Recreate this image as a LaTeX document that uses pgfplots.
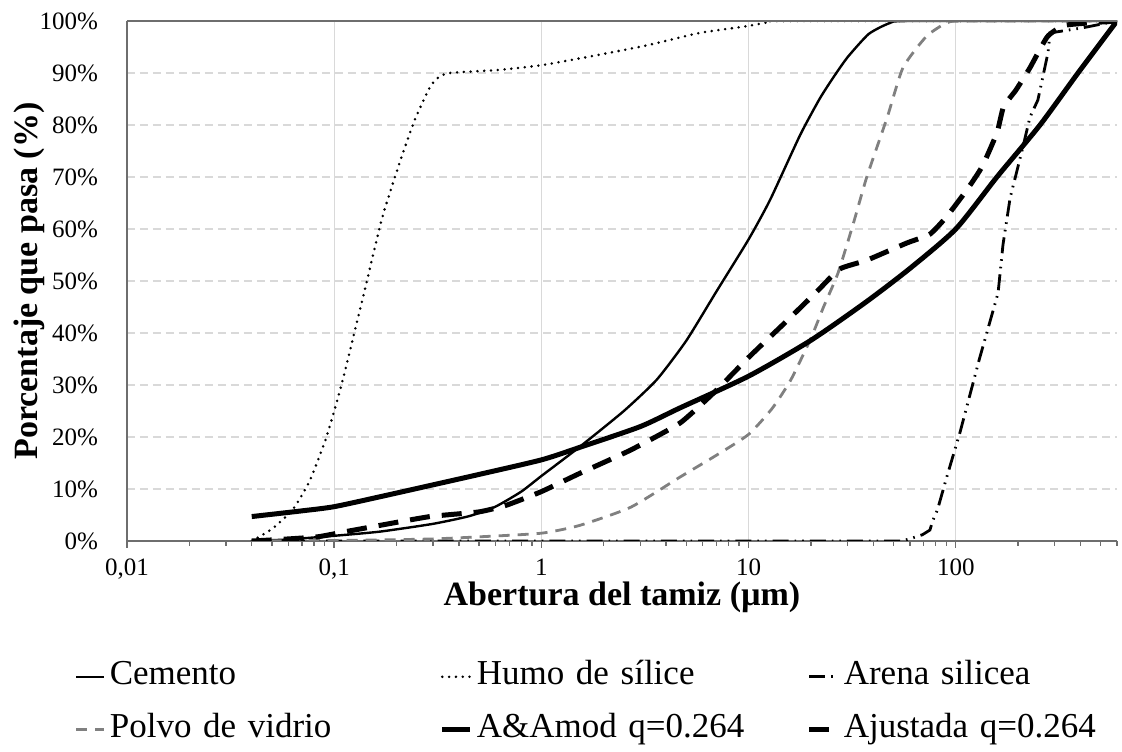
\documentclass[border=0pt]{standalone}
\usepackage{pgfplots}
\pgfplotsset{compat=1.18}
\usepackage{fontspec}
\setmainfont{Liberation Serif}
\definecolor{gridc}{RGB}{217,217,217}
\definecolor{axc}{RGB}{110,110,110}
\definecolor{polvo}{RGB}{128,128,128}
\begin{document}
\begin{tikzpicture}
\begin{axis}[
  scale only axis, width=495pt, height=260pt,
  xmode=log, xmin=0.01, xmax=600, ymin=0, ymax=100,
  /pgf/number format/assume math mode=true,
  xtick={0.01,0.1,1,10,100},
  xticklabels={{0,01},{0,1},1,10,100},
  minor xtick={0.02,0.03,0.04,0.05,0.06,0.07,0.08,0.09,0.2,0.3,0.4,0.5,0.6,0.7,0.8,0.9,2,3,4,5,6,7,8,9,20,30,40,50,60,70,80,90,200,300,400,500,600},
  ytick={0,10,20,30,40,50,60,70,80,90,100},
  yticklabels={0\%,10\%,20\%,30\%,40\%,50\%,60\%,70\%,80\%,90\%,100\%},
  axis x line*=bottom, axis y line*=left,
  axis line style={axc, line width=0.9pt},
  tick align=outside,
  major tick length=3.5pt, minor tick length=2.5pt,
  xtick style={axc, line width=0.7pt},
  ytick style={draw=none},
  xmajorgrids, ymajorgrids,
  x grid style={gridc, line width=0.6pt},
  y grid style={gridc, line width=0.6pt, dash pattern=on 4pt off 2.5pt},
  tick label style={font=\fontsize{12.5}{15}\selectfont},
  yticklabel style={xshift=-7.5pt},
  xticklabel style={yshift=-2pt, text depth=0pt},
  xlabel={Abertura del tamiz (µm)},
  ylabel={Porcentaje que pasa (\%)},
  label style={font=\bfseries\fontsize{17}{20}\selectfont},
  xlabel style={at={(axis description cs:0.5,-0.108)}, anchor=center, inner sep=0pt},
  ylabel style={at={(axis description cs:-0.099,0.5)}, anchor=center},
  legend columns=3,
  legend image code/.code={\draw[#1] (0pt,0pt) -- (14pt,0pt);},
  legend style={at={(axis description cs:-0.0525,-0.2304)}, anchor=north west,
    draw=none, fill=none, inner sep=0pt, outer sep=0pt,
    column sep=0pt, row sep=10.5pt,
    font=\fontsize{17.5}{20}\selectfont,
    nodes={inner xsep=2pt, inner ysep=0pt, text width=163pt, align=left, text height=12pt, text depth=4pt}},
  legend cell align=left,
]
\coordinate (sw) at (rel axis cs:0,0);
\coordinate (ne) at (rel axis cs:1,1);

% Cemento
\addplot[black, line width=1.2pt, smooth, tension=0.35] coordinates {
(0.04,0) (0.06,0.3) (0.1,1.0) (0.166,1.8) (0.3,3.3) (0.45,4.8) (0.6,6.6) (0.8,9.5) (1,12.5) (1.53,18.1) (2.5,25) (3.6,31) (5,38.5) (7,48) (10,58) (12.7,65.6) (17.7,78) (22,85) (25.5,89) (30,93) (38,97.5) (48,99.6) (60,100) (600,100)};
\addlegendentry{Cemento}

% Humo de silice
\addplot[black, line width=1.4pt, line cap=round, dash pattern=on 0pt off 3.4pt, smooth, tension=0.35] coordinates {
(0.04,0) (0.05,2.3) (0.063,6) (0.076,11.5) (0.09,19) (0.1,25) (0.11,31) (0.125,40) (0.14,48) (0.17,62) (0.208,73) (0.245,81) (0.29,87.3) (0.32,89.2) (0.36,90) (0.52,90.4) (0.63,90.6) (1.0,91.5) (1.9,93.5) (3.3,95.4) (5.8,97.7) (9.8,99) (12.7,99.8) (16,100) (600,100)};
\addlegendentry{Humo de sílice}

% Arena silicea
\addplot[black, line width=1.4pt, dash pattern=on 8pt off 3pt on 0.8pt off 3pt on 0.8pt off 3pt] coordinates {
(0.04,0) (55,0) (62,0.6) (69,1.2) (75,2.1) (77.6,4) (81.6,6) (90,12) (105,21) (130,35) (160,47.7) (169,57) (183,66) (211,75.8) (228,81.5) (249,84.8) (279,94) (285,97.7) (411,98.7) (600,100)};
\addlegendentry{Arena silicea}

% Polvo de vidrio
\addplot[polvo, line width=1.4pt, dash pattern=on 5.5pt off 4pt, smooth, tension=0.35] coordinates {
(0.04,0) (0.1,0.1) (0.166,0.2) (0.3,0.4) (0.5,0.8) (1,1.5) (1.53,3) (2.7,6.5) (4.67,12.3) (7,16.5) (10,20.5) (13,25.5) (16,31) (20,39) (23,45) (27,51.5) (32,61) (37.2,70) (46.7,81.5) (55.6,91) (72,97) (90,99.6) (110,100) (600,100)};
\addlegendentry{Polvo de vidrio}

% A&Amod
\addplot[black, line width=2.5pt, smooth, tension=0.4] coordinates {
(0.04,4.7) (0.07,5.8) (0.1,6.6) (0.166,8.5) (0.3,10.8) (0.5,12.8) (1,15.6) (1.53,18) (3,22) (4.67,25.6) (10,31.7) (20,38.6) (37,46) (60,52.4) (100,60) (158,70) (255,80) (389,90) (600,100)};
\addlegendentry{A\&Amod q=0.264}

% Ajustada
\addplot[black, line width=2.5pt, dash pattern=on 10pt off 6pt, smooth, tension=0.3] coordinates {
(0.04,0) (0.055,0.3) (0.083,0.8) (0.11,1.7) (0.166,3) (0.29,4.7) (0.5,5.6) (0.68,6.9) (1,9.5) (1.53,13) (2.7,17.5) (4.67,22.7) (7,29) (10,35.3) (15,42) (21.4,48) (27.5,52.3) (37.2,54) (58,57.3) (75,59) (90,62.3) (113,67.5) (134,72) (158,78.5) (170,83.5) (195,86.7) (228,91) (277,97) (340,99.2) (600,100)};
\addlegendentry{Ajustada q=0.264}

\draw[axc, line width=0.9pt] (rel axis cs:0,1) -- (rel axis cs:1,1);
\end{axis}
\pgfresetboundingbox
\path[use as bounding box] ([xshift=-63.5pt,yshift=-105.5pt]sw) rectangle ([xshift=2.5pt,yshift=10.5pt]ne);
\end{tikzpicture}
\end{document}
